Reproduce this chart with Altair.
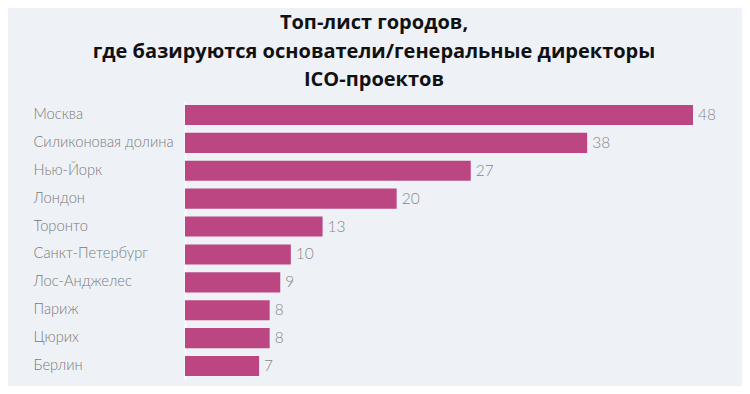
import altair as alt
import pandas as pd

cities = ["Москва", "Силиконовая долина", "Нью-Йорк", "Лондон", "Торонто",
          "Санкт-Петербург", "Лос-Анджелес", "Париж", "Цюрих", "Берлин"]
counts = [48, 38, 27, 20, 13, 10, 9, 8, 8, 7]

df = pd.DataFrame({"city": cities, "count": counts})

BG = "#eef2f7"
BAR = "#bc4682"

y = alt.Y("city:N", sort=cities, title=None,
          scale=alt.Scale(paddingInner=0.28, paddingOuter=0.14),
          axis=alt.Axis(labelAlign="left", labelPadding=152, ticks=False,
                        domainColor="white", domainWidth=1.5,
                        labelFont="Lato", labelFontWeight=300, labelFontSize=14.7,
                        labelColor="#7a7a7a"))
x = alt.X("count:Q", title=None, scale=alt.Scale(domain=[0, 48], nice=False),
          axis=None)

bars = alt.Chart(df).mark_bar(color=BAR).encode(x=x, y=y)
labels = alt.Chart(df).mark_text(align="left", dx=5, font="Lato", fontWeight=300,
                                 fontSize=15.5, color="#888888").encode(
    x=x, y=alt.Y("city:N", sort=cities), text="count:Q")

chart = (bars + labels).properties(
    width=508, height=279,
    background=BG,
    autosize=alt.AutoSizeParams(type="none"),
    padding={"left": 177, "top": 93, "right": 49, "bottom": 6},
    title=alt.TitleParams(
        text=["Топ-лист городов,", "где базируются основатели/генеральные директоры", "ICO-проектов"],
        font="Open Sans", fontWeight="bold", fontSize=20, color="#111111",
        anchor="middle", frame="group", dx=-65, offset=11, lineHeight=28.5,
    ),
).configure_view(stroke=None).configure_axis(grid=False)

chart.save("out.html", embed_options={"renderer": "svg", "actions": False})
